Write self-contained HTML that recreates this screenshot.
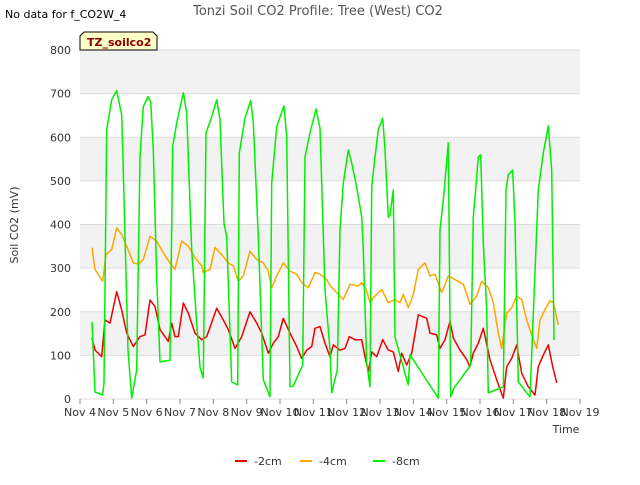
<!DOCTYPE html>
<html><head><meta charset="utf-8"><style>
body{margin:0;background:#fff;font-family:"Liberation Sans","DejaVu Sans",sans-serif}
svg text{font-family:"DejaVu Sans","Liberation Sans",sans-serif}
</style></head><body>
<svg id="c" width="640" height="480" xmlns="http://www.w3.org/2000/svg">
<rect width="640" height="480" fill="#fff"/>
<text x="5" y="18" font-size="11" fill="#000">No data for f_CO2W_4</text>
<text x="318" y="15" font-size="13" fill="#555" text-anchor="middle">Tonzi Soil CO2 Profile: Tree (West) CO2</text>
<g id="bands"></g>
<g id="grid"></g>
<g id="axes"></g>
<g id="series"></g>
<g>
<path d="M80,50 L80,36 L84,32 L153,32 L157,36 L157,50 Z" fill="#ffffc8" stroke="#000" stroke-width="1"/>
<text x="87" y="46" font-size="11" font-weight="bold" fill="#8b0000">TZ_soilco2</text>
</g>
<text x="18" y="225" font-size="11" fill="#333" text-anchor="middle" transform="rotate(-90 18 225)">Soil CO2 (mV)</text>
<text x="566" y="433" font-size="11" fill="#333" text-anchor="middle">Time</text>
<g id="legend"></g>
</svg>
<script>
const yTicks=[0,100,200,300,400,500,600,700,800];
const xTickLabels=["Nov 4","Nov 5","Nov 6","Nov 7","Nov 8","Nov 9","Nov 10","Nov 11","Nov 12","Nov 13","Nov 14","Nov 15","Nov 16","Nov 17","Nov 18","Nov 19"];
const seriesNames=["-2cm","-4cm","-8cm"];
const seriesColors=["#ee0000","#ffa500","#00ee00"];
const redDays=[0.36,0.45,0.65,0.75,0.9,1.1,1.25,1.4,1.6,1.8,1.95,2.1,2.25,2.4,2.65,2.75,2.85,2.95,3.1,3.25,3.45,3.65,3.8,4.1,4.3,4.45,4.65,4.85,5.1,5.3,5.45,5.65,5.8,5.95,6.1,6.3,6.5,6.65,6.8,6.95,7.05,7.2,7.35,7.5,7.6,7.8,7.95,8.08,8.25,8.45,8.55,8.65,8.75,8.9,9.08,9.25,9.4,9.55,9.65,9.8,9.95,10.15,10.4,10.5,10.7,10.8,10.95,11.1,11.2,11.4,11.6,11.7,11.8,11.95,12.1,12.3,12.5,12.7,12.8,12.95,13.1,13.25,13.45,13.65,13.75,13.9,14.05,14.18,14.3];
const redVals=[140,112,97,181,174,246,204,151,120,143,147,227,212,159,132,174,143,143,220,197,151,136,143,208,181,159,116,143,200,174,151,105,128,143,185,151,120,93,112,120,162,166,128,97,124,112,116,143,136,136,97,63,108,97,136,112,108,63,105,78,105,193,185,151,147,116,136,178,140,112,90,74,105,128,162,90,44,2,74,93,124,59,28,9,74,101,124,74,37];
const orangeDays=[0.36,0.45,0.68,0.78,0.95,1.1,1.25,1.4,1.6,1.75,1.9,2.1,2.3,2.5,2.7,2.85,3.05,3.25,3.45,3.65,3.7,3.9,4.05,4.25,4.45,4.6,4.75,4.9,5.1,5.3,5.5,5.65,5.75,5.9,6.1,6.3,6.5,6.65,6.85,7.05,7.2,7.4,7.5,7.7,7.9,8.1,8.35,8.45,8.6,8.7,8.8,9.05,9.25,9.45,9.6,9.7,9.85,10.0,10.15,10.35,10.5,10.65,10.85,11.05,11.25,11.5,11.7,11.9,12.05,12.25,12.4,12.55,12.65,12.8,12.95,13.1,13.25,13.4,13.55,13.7,13.8,13.95,14.1,14.2,14.35];
const orangeVals=[347,297,270,331,343,392,377,350,312,309,320,373,362,335,312,297,362,350,324,305,290,297,347,331,312,305,270,282,339,320,312,293,255,282,312,293,286,267,255,290,286,274,260,244,228,263,259,267,248,221,232,251,221,228,221,240,209,240,297,312,282,286,244,282,274,263,217,236,270,255,221,151,116,197,209,236,228,181,147,116,181,205,225,221,170];
const greenDays=[0.36,0.45,0.68,0.72,0.8,0.95,1.1,1.25,1.29,1.44,1.55,1.7,1.8,1.9,2.04,2.12,2.2,2.3,2.4,2.7,2.78,2.9,3.1,3.2,3.35,3.5,3.6,3.7,3.78,3.95,4.1,4.2,4.32,4.4,4.55,4.73,4.78,4.95,5.12,5.2,5.35,5.5,5.7,5.75,5.9,6.12,6.2,6.3,6.4,6.68,6.75,6.9,7.08,7.2,7.35,7.5,7.55,7.72,7.8,7.9,8.05,8.15,8.3,8.45,8.5,8.6,8.7,8.75,8.85,8.95,9.08,9.15,9.25,9.3,9.4,9.45,9.85,9.9,10.75,10.8,10.9,11.05,11.12,11.22,11.72,11.8,11.9,11.95,12.02,12.1,12.2,12.25,12.7,12.78,12.85,12.98,13.05,13.15,13.5,13.75,13.9,14.05,14.15,14.22];
const greenVals=[177,16,9,37,617,686,707,651,548,112,2,67,555,670,693,681,571,280,85,89,578,633,702,656,342,174,73,48,610,647,686,640,403,372,39,32,564,644,684,635,372,44,5,495,624,672,601,28,30,78,555,610,665,621,250,112,14,67,388,495,571,541,486,417,342,83,28,486,555,617,644,571,417,421,479,142,32,101,2,388,456,587,5,25,78,417,509,555,560,358,204,14,28,479,514,525,403,39,5,479,564,626,525,135];

const X0=80,X1=580,Y0=399,Y1=50;
const xs=d=>X0+d*(X1-X0)/15;
const ys=v=>Y0-v*(Y0-Y1)/800;
const NS="http://www.w3.org/2000/svg";
function mk(tag,attrs,parent){const e=document.createElementNS(NS,tag);for(const k in attrs)e.setAttribute(k,attrs[k]);parent.appendChild(e);return e;}
const bands=document.getElementById('bands'),grid=document.getElementById('grid'),axes=document.getElementById('axes'),ser=document.getElementById('series'),leg=document.getElementById('legend');
const bg=mk('rect',{x:X0,y:Y1,width:X1-X0,height:Y0-Y1,fill:'#fff'},bands);


for(let i=0;i<yTicks.length-1;i++){
  if(i%2===1){const r=mk('rect',{x:X0,y:ys(yTicks[i+1]),width:X1-X0,height:ys(yTicks[i])-ys(yTicks[i+1]),fill:'#f2f2f2'},bands);
  
  }
}
yTicks.forEach(v=>{
  const l=mk('line',{x1:X0,x2:X1,y1:ys(v),y2:ys(v),stroke:'#dcdcdc','stroke-width':1},grid);
  
  
  const t=mk('text',{x:71,y:ys(v)+4,'font-size':11,fill:'#333','text-anchor':'end'},axes);
  t.textContent=v;
  
  
});
xTickLabels.forEach((s,i)=>{
  const tk=mk('line',{x1:xs(i),x2:xs(i),y1:Y0,y2:Y0+5,stroke:'#888'},axes);
  
  
  const t=mk('text',{x:xs(i),y:416,'font-size':11,fill:'#333','text-anchor':'middle'},axes);
  t.textContent=s;
  
  
});
const data=[[redDays,redVals],[orangeDays,orangeVals],[greenDays,greenVals]];
data.forEach((d,k)=>{
  const pts=d[0].map((x,i)=>xs(x).toFixed(1)+','+ys(d[1][i]).toFixed(1)).join(' ');
  const p=mk('polyline',{points:pts,fill:'none',stroke:seriesColors[k],'stroke-width':1.5,'stroke-linejoin':'round'},ser);
  
  
});
const legX=[235,300,373];
seriesNames.forEach((n,k)=>{
  const g=mk('g',{},leg);
  
  
  mk('line',{x1:legX[k],x2:legX[k]+12,y1:461,y2:461,stroke:seriesColors[k],'stroke-width':2},g);
  const t=mk('text',{x:legX[k]+19,y:465,'font-size':11,fill:'#333'},g);
  t.textContent=n;
});
</script>
</body></html>
